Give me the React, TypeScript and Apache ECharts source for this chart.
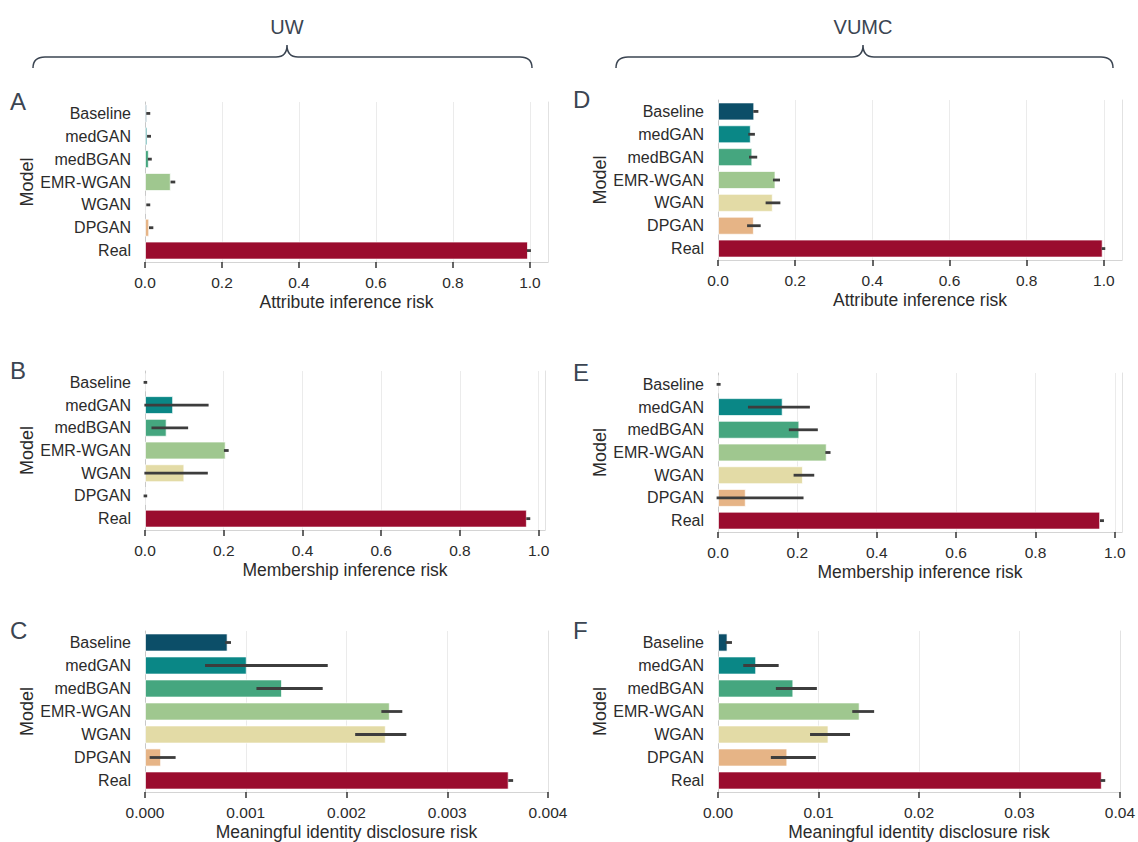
import React, { useEffect, useRef } from 'react';
import * as echarts from 'echarts';

// ---------- data ----------
const categories = ['Baseline', 'medGAN', 'medBGAN', 'EMR-WGAN', 'WGAN', 'DPGAN', 'Real'];
const barColors = ['#0c4e68', '#0a8786', '#45a67f', '#9fc78f', '#e3dba6', '#e6b486', '#9a0c2e'];

const ticksProb = [0, 0.2, 0.4, 0.6, 0.8, 1.0];
const ticksUwIdentity = [0, 0.001, 0.002, 0.003, 0.004];
const ticksVumcIdentity = [0, 0.01, 0.02, 0.03, 0.04];

// A: UW attribute inference risk
const uwAttrMean = [0.005, 0.006, 0.010, 0.067, 0.0, 0.011, 0.995];
const uwAttrLo = [0.007, 0.009, 0.011, 0.070, 0.007, 0.014, 0.996];
const uwAttrHi = [0.010, 0.012, 0.014, 0.075, 0.010, 0.018, 0.999];

// B: UW membership inference risk
const uwMemMean = [0.0, 0.0715, 0.055, 0.205, 0.1, 0.0, 0.970];
const uwMemLo = [0.0, 0.002, 0.02, 0.204, 0.002, 0.0, 0.972];
const uwMemHi = [0.002, 0.158, 0.106, 0.209, 0.156, 0.002, 0.975];

// C: UW meaningful identity disclosure risk
const uwIdMean = [0.00082, 0.00101, 0.00136, 0.00243, 0.00239, 0.00016, 0.00361];
const uwIdLo = [0.00081, 0.00061, 0.00112, 0.00236, 0.0021, 0.00006, 0.00362];
const uwIdHi = [0.00084, 0.0018, 0.00175, 0.00254, 0.00258, 0.00029, 0.00364];

// D: VUMC attribute inference risk
const vuAttrMean = [0.094, 0.085, 0.089, 0.149, 0.142, 0.093, 0.997];
const vuAttrLo = [0.095, 0.082, 0.084, 0.146, 0.127, 0.079, 0.998];
const vuAttrHi = [0.101, 0.092, 0.098, 0.157, 0.158, 0.107, 1.0];

// E: VUMC membership inference risk
const vuMemMean = [0.0, 0.163, 0.205, 0.274, 0.214, 0.070, 0.963];
const vuMemLo = [0.0, 0.079, 0.182, 0.274, 0.194, 0.0, 0.966];
const vuMemHi = [0.003, 0.228, 0.248, 0.280, 0.239, 0.212, 0.969];

// F: VUMC meaningful identity disclosure risk
const vuIdMean = [0.00095, 0.0038, 0.0075, 0.0141, 0.011, 0.0069, 0.0382];
const vuIdLo = [0.0009, 0.00265, 0.0059, 0.0135, 0.0093, 0.0054, 0.0382];
const vuIdHi = [0.00125, 0.0059, 0.0097, 0.0154, 0.013, 0.0096, 0.0384];

const panelLetters = ['A', 'B', 'C', 'D', 'E', 'F'];
const xTitles = [
  'Attribute inference risk',
  'Membership inference risk',
  'Meaningful identity disclosure risk',
  'Attribute inference risk',
  'Membership inference risk',
  'Meaningful identity disclosure risk',
];
const groupTitles = ['UW', 'VUMC'];

// ---------- layout ----------
const FONT = '"Liberation Sans", Arial, Helvetica, sans-serif';
const TEXT = '#2b2b2b';
const LETTER = '#3b4552';

const panels = [
  { mean: uwAttrMean, lo: uwAttrLo, hi: uwAttrHi, max: 1.047, ticks: ticksProb, dec: 1, grid: { left: 145, top: 102, width: 403, height: 160 } },
  { mean: uwMemMean, lo: uwMemLo, hi: uwMemHi, max: 1.016, ticks: ticksProb, dec: 1, grid: { left: 145, top: 371, width: 400, height: 159 } },
  { mean: uwIdMean, lo: uwIdLo, hi: uwIdHi, max: 0.004, ticks: ticksUwIdentity, dec: 3, grid: { left: 145, top: 631, width: 403, height: 161 } },
  { mean: vuAttrMean, lo: vuAttrLo, hi: vuAttrHi, max: 1.047, ticks: ticksProb, dec: 1, grid: { left: 718, top: 100, width: 404, height: 160 } },
  { mean: vuMemMean, lo: vuMemLo, hi: vuMemHi, max: 1.018, ticks: ticksProb, dec: 1, grid: { left: 718, top: 373, width: 404, height: 159 } },
  { mean: vuIdMean, lo: vuIdLo, hi: vuIdHi, max: 0.04, ticks: ticksVumcIdentity, dec: 2, grid: { left: 718, top: 631, width: 404, height: 161 } },
];

function braceD(x0: number, xc: number, x1: number) {
  const yb = 57, ye = 68, yp = 45;
  return `M${x0},${ye} Q${x0},${yb} ${x0 + 12},${yb} L${xc - 11},${yb} Q${xc},${yb} ${xc},${yp} Q${xc},${yb} ${xc + 11},${yb} L${x1 - 12},${yb} Q${x1},${yb} ${x1},${ye}`;
}

let registered = false;
function registerBraces() {
  if (registered) return;
  registered = true;
  echarts.graphic.registerShape('braceL', echarts.graphic.extendPath(braceD(33, 287, 532), {}) as any);
  echarts.graphic.registerShape('braceR', echarts.graphic.extendPath(braceD(616, 863, 1113), {}) as any);
}

export default function App() {
  const ref = useRef<HTMLDivElement>(null);

  useEffect(() => {
    document.body.style.margin = '0';
    registerBraces();
    const chart = echarts.init(ref.current!, null, { renderer: 'svg' });

    const grids: any[] = [];
    const xAxes: any[] = [];
    const yAxes: any[] = [];
    const series: any[] = [];
    const graphics: any[] = [];

    panels.forEach((p, i) => {
      grids.push({ ...p.grid, containLabel: false });
      xAxes.push({
        type: 'value',
        gridIndex: i,
        min: 0,
        max: p.max,
        axisLine: { show: true, lineStyle: { color: '#d4d4d4', width: 1 } },
        axisTick: { show: true, length: 6, customValues: p.ticks, lineStyle: { color: '#333', width: 1.5 } },
        axisLabel: {
          customValues: p.ticks,
          formatter: (v: number) => v.toFixed(p.dec),
          fontSize: 15.5,
          color: TEXT,
          fontFamily: FONT,
          margin: 12,
        },
        splitLine: { show: true, lineStyle: { color: '#ebebeb', width: 1 } },
        name: xTitles[i],
        nameLocation: 'middle',
        nameGap: 31,
        nameTextStyle: { fontSize: 17.5, color: TEXT, fontFamily: FONT },
      });
      yAxes.push({
        type: 'category',
        gridIndex: i,
        data: categories,
        inverse: true,
        axisLine: { show: true, lineStyle: { color: '#c8c8c8', width: 1 } },
        axisTick: { show: false },
        axisLabel: { fontSize: 16, color: TEXT, fontFamily: FONT, margin: 14 },
        splitLine: { show: false },
        name: 'Model',
        nameLocation: 'middle',
        nameRotate: 90,
        nameGap: 106,
        nameTextStyle: { fontSize: 18, color: TEXT, fontFamily: FONT },
      });
      // right border
      yAxes.push({
        type: 'category',
        gridIndex: i,
        position: 'right',
        data: categories,
        inverse: true,
        axisLine: { show: true, lineStyle: { color: '#e2e2e2', width: 1 } },
        axisTick: { show: false },
        axisLabel: { show: false },
        splitLine: { show: false },
      });

      series.push({
        type: 'bar',
        xAxisIndex: i,
        yAxisIndex: i * 2,
        barWidth: '79%',
        data: p.mean.map((v, k) => ({
          value: v,
          itemStyle: { color: barColors[k], borderColor: 'rgba(255,255,255,0.7)', borderWidth: 1 },
        })),
        silent: true,
        z: 2,
      });
      series.push({
        type: 'custom',
        xAxisIndex: i,
        yAxisIndex: i * 2,
        data: p.lo.map((lo, k) => [lo, p.hi[k], k]),
        encode: { x: [0, 1], y: 2 },
        renderItem: (params: any, api: any) => {
          const a = api.coord([api.value(0), api.value(2)]);
          const b = api.coord([api.value(1), api.value(2)]);
          return {
            type: 'line',
            shape: { x1: a[0], y1: a[1], x2: b[0], y2: b[1] },
            style: { stroke: '#3d3d3d', lineWidth: 2.8, lineCap: 'square' },
          };
        },
        silent: true,
        z: 5,
      });

      const letterX = p.grid.left < 400 ? 10 : 573;
      graphics.push({
        type: 'text',
        left: letterX,
        top: p.grid.top - 13,
        style: { text: panelLetters[i], fontSize: 24, fill: LETTER, fontFamily: FONT },
      });
    });

    graphics.push({
      type: 'text',
      x: 287,
      y: 27,
      style: { text: groupTitles[0], fontSize: 20, fill: LETTER, fontFamily: FONT, align: 'center', verticalAlign: 'middle' },
    });
    graphics.push({
      type: 'text',
      x: 863,
      y: 27,
      style: { text: groupTitles[1], fontSize: 20, fill: LETTER, fontFamily: FONT, align: 'center', verticalAlign: 'middle' },
    });
    graphics.push({ type: 'braceL', x: 0, y: 0, style: { fill: 'none', stroke: LETTER, lineWidth: 1.5 } });
    graphics.push({ type: 'braceR', x: 0, y: 0, style: { fill: 'none', stroke: LETTER, lineWidth: 1.5 } });

    chart.setOption({
      animation: false,
      backgroundColor: '#ffffff',
      textStyle: { fontFamily: FONT },
      grid: grids,
      xAxis: xAxes,
      yAxis: yAxes,
      series,
      graphic: graphics,
    });

    return () => chart.dispose();
  }, []);

  return <div ref={ref} style={{ width: 1138, height: 842 }} />;
}
